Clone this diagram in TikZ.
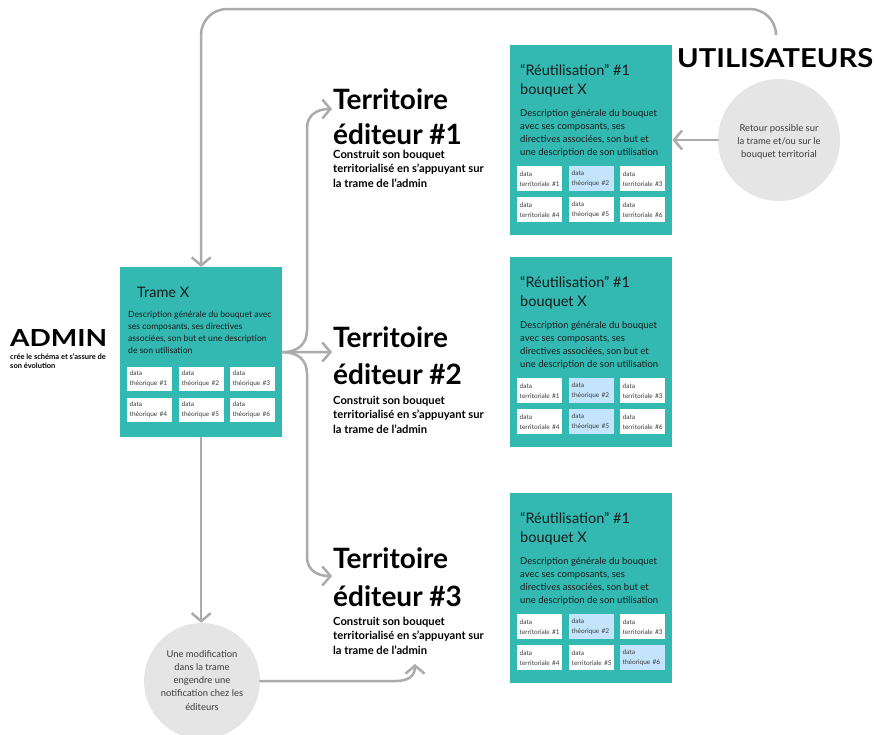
\documentclass[tikz,border=0pt]{standalone}
\usepackage{fontspec}
\setmainfont{Lato}
\usetikzlibrary{arrows.meta,calc}
\definecolor{teal1}{HTML}{33B9B2}
\definecolor{cellblue}{HTML}{C3E4FA}
\definecolor{conngray}{HTML}{ABABAB}
\definecolor{circgray}{HTML}{E5E5E5}
\definecolor{ink}{HTML}{1A1A1A}
\definecolor{cellink}{HTML}{3A3A3A}
\newcommand\txtlines[6]{\foreach \t [count=\i from 0] in {#6} {\node[#2, name=#1\i] at (#3,{#4+\i*#5}) {\t};}}
\newcommand\cell[6]{\node[cellbox, fill=#4, minimum height=#5pt] (#1) at (#2,{#3}) {data\\#6};}
\newcommand\bouquet[6]{%
  \node[panel, minimum width=162pt, minimum height=190pt] (#1) at (510,#2) {};
  \node[btitle] (#1t) at (520,{#2+30}) {“Réutilisation” \#1};
  \node[btitle] (#1u) at (520,{#2+49}) {bouquet X};
  \txtlines{#1d}{bdesc}{520}{#2+71}{13.3}{Description générale du bouquet, {avec ses composants, ses}, {directives associées, son but et}, une description de son utilisation}
  \cell{#1c1}{517}{#2+121}{white}{25}{territoriale \#1}
  \cell{#1c2}{569}{#2+121}{cellblue}{25}{théorique \#2}
  \cell{#1c3}{620}{#2+121}{white}{25}{territoriale \#3}
  \cell{#1c4}{517}{#2+152}{white}{25}{territoriale \#4}
  \cell{#1c5}{569}{#2+152}{#3}{25}{#4 \#5}
  \cell{#1c6}{620}{#2+152}{#5}{25}{#6 \#6}
}
\newcommand\territoire[4]{%
  \node[bigtitle] (ter#1a) at (333,{109+#2}) {Territoire};
  \node[bigtitle] (ter#1b) at (333,{144+#3}) {éditeur \##1};
  \txtlines{ter#1c}{smallbold}{333}{158+#4}{14.5}{Construit son bouquet, territorialisé en s’appuyant sur, la trame de l’admin}
}
\begin{document}
\begin{tikzpicture}[x=1pt,y=-1pt,
  conn/.style={draw=conngray, line width=2.5pt, line cap=round},
  arrowhd/.style={-{Straight Barb[length=8pt,width=19pt]}},
  panel/.style={fill=teal1, draw=none, inner sep=0, anchor=north west},
  cellbox/.style={anchor=north west, inner xsep=2.5pt, inner ysep=0pt, minimum width=45pt, text width=40pt, align=left, font=\fontsize{6.5}{10}\selectfont, text=cellink},
  btitle/.style={anchor=base west, inner sep=0, font=\fontsize{14.5}{17}\selectfont, text=ink},
  bdesc/.style={anchor=base west, inner sep=0, font=\fontsize{9.5}{11}\selectfont, text=ink},
  bigtitle/.style={anchor=base west, inner sep=0, font=\fontsize{28}{30}\selectfont\bfseries, text=black},
  smallbold/.style={anchor=base west, inner sep=0, font=\fontsize{11.2}{13}\selectfont\bfseries, text=black},
  circtxt/.style={anchor=base, inner sep=0, font=\fontsize{9.4}{11}\selectfont, text=cellink}]
\useasboundingbox (0,0) rectangle (874,734);

% Trame X
\node[panel, minimum width=162pt, minimum height=170pt] (trame) at (120,267) {};
\node[btitle] (trametitle) at (137,297) {Trame X};
\txtlines{tramed}{anchor=base west, inner sep=0, font=\fontsize{8.6}{11}\selectfont, text=ink}{128}{317}{12.3}{Description générale du bouquet avec, {ses composants, ses directives}, {associées, son but et une description}, de son utilisation}
\cell{tc1}{127}{367}{white}{23.5}{théorique \#1}
\cell{tc2}{179}{367}{white}{23.5}{théorique \#2}
\cell{tc3}{230}{367}{white}{23.5}{théorique \#3}
\cell{tc4}{127}{398}{white}{23.5}{théorique \#4}
\cell{tc5}{179}{398}{white}{23.5}{théorique \#5}
\cell{tc6}{230}{398}{white}{23.5}{théorique \#6}

% ADMIN
\node[anchor=base west, inner sep=0] (admin) at (10,346) {\resizebox{97pt}{17pt}{\bfseries ADMIN}};
\txtlines{admins}{anchor=base west, inner sep=0, font=\fontsize{7.5}{8}\selectfont\bfseries, text=black}{10}{359}{9.5}{crée le schéma et s’assure de, son évolution}

% UTILISATEURS
\node[anchor=base west, inner sep=0] (users) at (677,67) {\resizebox{196pt}{19pt}{\bfseries UTILISATEURS}};

% Territoires
\territoire{1}{0}{0}{0}
\territoire{2}{238}{240}{246}
\territoire{3}{459}{462}{467}

% Bouquets
\bouquet{bq1}{45}{white}{théorique}{white}{territoriale}
\bouquet{bq2}{257}{cellblue}{théorique}{white}{territoriale}
\bouquet{bq3}{493}{white}{territoriale}{cellblue}{théorique}

% Circles
\node[circle, fill=circgray, minimum size=122pt, inner sep=0] (retour) at (779,140) {};
\txtlines{retourt}{circtxt}{779}{131}{13}{Retour possible sur, la trame et/ou sur le, bouquet territorial}
\node[circle, fill=circgray, minimum size=116pt, inner sep=0] (modc) at (202,681) {};
\txtlines{modt}{circtxt}{202}{657}{13.3}{Une modification, dans la trame, engendre une, notification chez les, éditeurs}

% Connectors
\coordinate (loopstart) at (776,34);
\coordinate (loopr) at (776,9);
\coordinate (loopl) at (201,9);
\draw[conn, arrowhd, rounded corners=26pt] (loopstart) -- (loopr) -- (loopl) -- (trame.north);

\coordinate (t1) at (332,109);
\coordinate (t2) at (332,352);
\coordinate (t3) at (332,576);
\draw[conn, arrowhd] (trame.east) .. controls (298,352) and (307,344) .. (307,330) -- (307,128) .. controls (307,116) and (316,109) .. (t1);
\draw[conn, arrowhd] (trame.east) -- (t2);
\draw[conn, arrowhd] (trame.east) .. controls (298,352) and (307,360) .. (307,374) -- (307,557) .. controls (307,569) and (316,576) .. (t3);

\draw[conn, arrowhd] (trame.south) -- (trame.south |- modc.north);

\coordinate (modturn) at (396,681);
\coordinate (modtip) at (415,664);
\draw[conn, arrowhd] (modc.east) -- (modturn) .. controls (408,681) and (415,676) .. (modtip);

\draw[conn, arrowhd] (retour.west) -- (retour.west -| bq1.east);
\end{tikzpicture}
\end{document}
